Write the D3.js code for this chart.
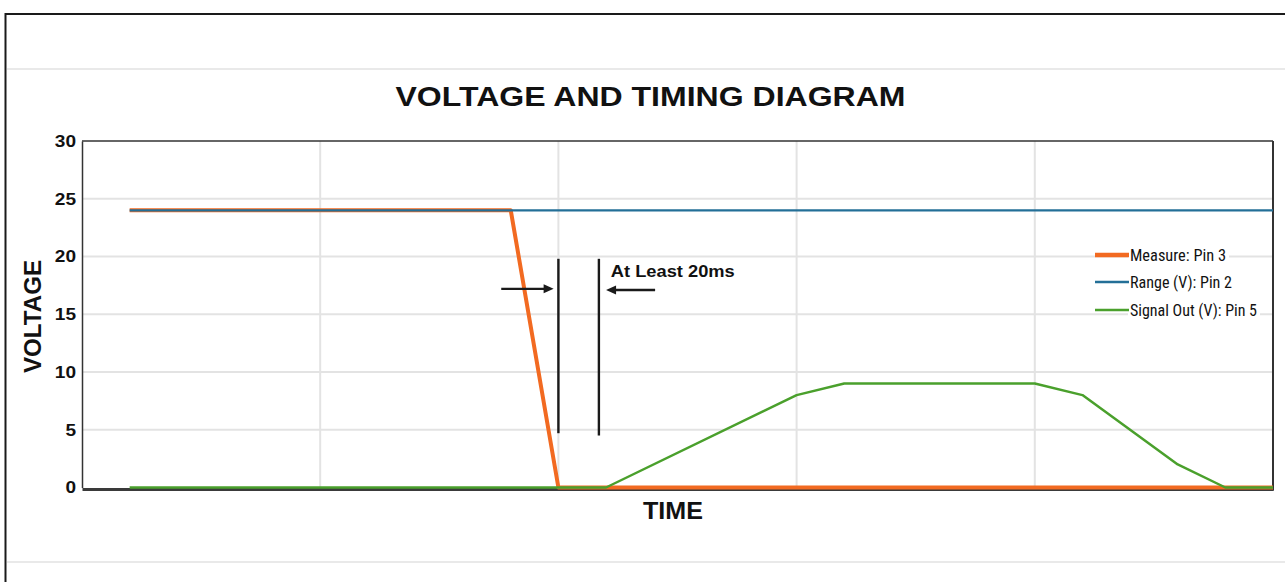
<!DOCTYPE html>
<html>
<head>
<meta charset="utf-8">
<script src="https://cdn.jsdelivr.net/npm/d3@7"></script>
<style>
  html, body { margin: 0; padding: 0; background: #fff; }
  svg { display: block; }
  text { font-family: "Liberation Sans", Arial, Helvetica, sans-serif; }
  .narrow { font-family: "Liberation Sans Narrow", "Roboto Condensed", "Liberation Sans", Arial, sans-serif; }
</style>
</head>
<body>
<svg id="chart" width="1285" height="582"></svg>
<script>
// ---------------- data ----------------
const chartTitle = "VOLTAGE AND TIMING DIAGRAM";
const xAxisTitle = "TIME";
const yAxisTitle = "VOLTAGE";
const yTicks = [0, 5, 10, 15, 20, 25, 30];
const xGridTicks = [5, 10, 15, 20];

const seriesNames = ["Measure: Pin 3", "Range (V): Pin 2", "Signal Out (V): Pin 5"];
const measureTime = [1, 9, 10, 25];
const measureVolts = [24, 24, 0, 0];
const rangeTime = [1, 25];
const rangeVolts = [24, 24];
const signalTime = [1, 11, 15, 16, 20, 21, 23, 24, 25];
const signalVolts = [0, 0, 8, 9, 9, 8, 2, 0, 0];

const annotationText = "At Least 20ms";
const markerTimes = [10, 10.85];          // the two vertical marker lines
const markerVolts = [[19.8, 4.7], [19.8, 4.5]];
const arrowRight = { from: 8.8, to: 9.9, v: 17.2 };
const arrowLeft  = { from: 12.03, to: 11.0, v: 17.1 };
const annotationPos = { t: 11.1, v: 18.25 };

// ---------------- layout ----------------
const svg = d3.select("#chart");
const W = 1285, H = 582;
const plot = { left: 82, right: 1273, top: 141, bottom: 487.5 };
const colors = ["#f26a21", "#236f97", "#4aa02c"];
const widths = [4, 2.2, 2.5];

const x = d3.scaleLinear().domain([0, 25]).range([plot.left, plot.right]);
const y = d3.scaleLinear().domain([0, 30]).range([plot.bottom, plot.top]);

// outer frame
svg.append("line").attr("x1", 5).attr("x2", W).attr("y1", 14).attr("y2", 14)
  .attr("stroke", "#1a1a1a").attr("stroke-width", 2);
svg.append("line").attr("x1", 5.5).attr("x2", 5.5).attr("y1", 13).attr("y2", H)
  .attr("stroke", "#1a1a1a").attr("stroke-width", 2);
[69, 562].forEach(yy => svg.append("line").attr("x1", 7).attr("x2", W)
  .attr("y1", yy).attr("y2", yy).attr("stroke", "#e2e2e2").attr("stroke-width", 1.6));

// grid
const g = svg.append("g");
g.selectAll(".hgrid").data(yTicks.filter(d => d > 0 && d < 30)).join("line")
  .attr("x1", plot.left).attr("x2", plot.right)
  .attr("y1", d => y(d)).attr("y2", d => y(d))
  .attr("stroke", "#e3e3e3").attr("stroke-width", 2);
g.selectAll(".vgrid").data(xGridTicks).join("line")
  .attr("y1", plot.top).attr("y2", plot.bottom)
  .attr("x1", d => x(d)).attr("x2", d => x(d))
  .attr("stroke", "#e3e3e3").attr("stroke-width", 2);

// frame of plot
g.append("line").attr("x1", plot.left).attr("x2", plot.right).attr("y1", plot.top).attr("y2", plot.top)
  .attr("stroke", "#333").attr("stroke-width", 1.5);
g.append("line").attr("x1", plot.right).attr("x2", plot.right).attr("y1", plot.top).attr("y2", plot.bottom + 3)
  .attr("stroke", "#333").attr("stroke-width", 2);

// y axis via d3
const yAxis = d3.axisLeft(y).tickValues(yTicks).tickSize(0).tickPadding(6);
const ya = svg.append("g").attr("transform", `translate(${plot.left},0)`).call(yAxis);
ya.select(".domain").attr("stroke", "#333").attr("stroke-width", 1.5);
ya.selectAll("text")
  .attr("font-size", 16.5).attr("font-weight", "bold").attr("fill", "#111")
  .attr("font-family", "Liberation Sans, Arial, sans-serif")
  .attr("textLength", d => String(d).length * 10.6).attr("lengthAdjust", "spacingAndGlyphs");

// x axis (no labels)
const xAxis = d3.axisBottom(x).tickValues([]).tickSize(0);
const xa = svg.append("g").attr("transform", `translate(0,${plot.bottom + 1.5})`).call(xAxis);
xa.select(".domain").attr("stroke", "#3a3a3a").attr("stroke-width", 3);

// series
const series = [
  { t: measureTime, v: measureVolts },
  { t: rangeTime, v: rangeVolts },
  { t: signalTime, v: signalVolts }
];
const line = d3.line().x(d => x(d[0])).y(d => y(d[1]));
series.forEach((s, i) => {
  svg.append("path")
    .attr("d", line(s.t.map((t, k) => [t, s.v[k]])))
    .attr("fill", "none").attr("stroke", colors[i]).attr("stroke-width", widths[i])
    .attr("stroke-linejoin", "round");
});

// annotation
const ann = svg.append("g");
markerTimes.forEach((t, i) => {
  ann.append("line").attr("x1", x(t)).attr("x2", x(t))
    .attr("y1", y(markerVolts[i][0])).attr("y2", y(markerVolts[i][1]))
    .attr("stroke", "#1a1a1a").attr("stroke-width", 2.4);
});
function arrow(a) {
  const x0 = x(a.from), x1 = x(a.to), yy = y(a.v);
  const dir = Math.sign(x1 - x0);
  ann.append("line").attr("x1", x0).attr("x2", x1 - dir * 7).attr("y1", yy).attr("y2", yy)
    .attr("stroke", "#1a1a1a").attr("stroke-width", 2.4);
  ann.append("path")
    .attr("d", `M${x1},${yy} L${x1 - dir * 10},${yy - 4.5} L${x1 - dir * 10},${yy + 4.5} Z`)
    .attr("fill", "#1a1a1a");
}
arrow(arrowRight);
arrow(arrowLeft);
ann.append("text").attr("x", x(annotationPos.t)).attr("y", y(annotationPos.v))
  .attr("font-size", 17).attr("font-weight", "bold").attr("fill", "#111")
  .attr("textLength", 124).attr("lengthAdjust", "spacingAndGlyphs")
  .text(annotationText);

// legend
const legendX = 1095, legendY = [255, 282, 310];
const legendLen = [96, 102, 127];
const lg = svg.append("g");
seriesNames.forEach((name, i) => {
  lg.append("rect").attr("x", legendX + 33).attr("y", legendY[i] - 10)
    .attr("width", legendLen[i] + 5).attr("height", 20).attr("fill", "#fff");
  lg.append("line").attr("x1", legendX).attr("x2", legendX + 34)
    .attr("y1", legendY[i]).attr("y2", legendY[i])
    .attr("stroke", colors[i]).attr("stroke-width", i === 0 ? 4.5 : 2.5);
  lg.append("text").attr("class", "narrow")
    .attr("x", legendX + 35).attr("y", legendY[i] + 6)
    .attr("font-size", 16).attr("fill", "#111")
    .attr("textLength", legendLen[i]).attr("lengthAdjust", "spacingAndGlyphs")
    .text(name);
});

// titles
svg.append("text").attr("x", 650.5).attr("y", 106).attr("text-anchor", "middle")
  .attr("font-size", 27.5).attr("font-weight", "bold").attr("fill", "#111")
  .attr("textLength", 510).attr("lengthAdjust", "spacingAndGlyphs")
  .text(chartTitle);
svg.append("text").attr("x", 673).attr("y", 519).attr("text-anchor", "middle")
  .attr("font-size", 23.5).attr("font-weight", "bold").attr("fill", "#111")
  .attr("textLength", 60).attr("lengthAdjust", "spacingAndGlyphs")
  .text(xAxisTitle);
svg.append("text").attr("transform", "translate(41,316.5) rotate(-90)").attr("text-anchor", "middle")
  .attr("font-size", 23).attr("font-weight", "bold").attr("fill", "#111")
  .attr("textLength", 113).attr("lengthAdjust", "spacingAndGlyphs")
  .text(yAxisTitle);
</script>
</body>
</html>
